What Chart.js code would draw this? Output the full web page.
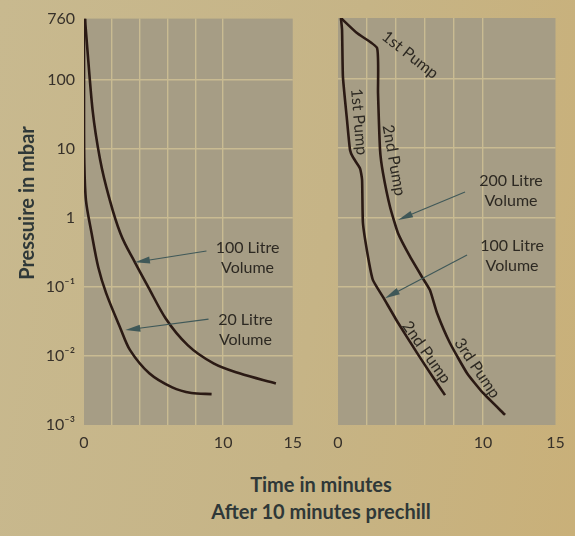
<!DOCTYPE html>
<html>
<head>
<meta charset="utf-8">
<script src="https://cdn.jsdelivr.net/npm/chart.js@4.4.0/dist/chart.umd.min.js"></script>
<style>
    body {
        margin: 0;
        width: 575px;
        height: 536px;
        overflow: hidden;
        position: relative;
        background: linear-gradient(100deg, #c8b98f 0%, #c6b486 55%, #c9b079 100%);
        font-family: Lato, "DejaVu Sans", sans-serif;
    }
    #leftChart { position: absolute; left: 0; top: 0; }
    #rightChart { position: absolute; left: 310px; top: 0; }
    .xtitle {
        position: absolute;
        left: 0;
        width: 642px;
        text-align: center;
        font-weight: bold;
        font-size: 20px;
        color: #2f3838;
    }
</style>
</head>
<body>
<canvas id="leftChart" width="310" height="460"></canvas>
<canvas id="rightChart" width="265" height="460"></canvas>
<div class="xtitle" style="top:472px">Time in minutes</div>
<div class="xtitle" style="top:499px">After 10 minutes prechill</div>
<script>
// axis ticks
var yTickValues = [0.001, 0.01, 0.1, 1, 10, 100, 760];
var yTickLabels = ['10⁻³', '10⁻²', '10⁻¹', '1', '10', '100', '760'];
var xTickValues = [0, 2, 4, 6, 8, 10, 15];
var xLabelValues = [0, 10, 15];

// left panel: 20 litre and 100 litre volume (minutes, mbar)
var left20Time = [0.07, 0, 0, 0.02, 0.14, 0.55, 1.03, 1.59, 2.62, 3.31, 4.69, 6.34, 7.72, 9.17];
var left20Pressure = [760, 331, 35.6, 6.7, 1.78, 0.59, 0.19, 0.081, 0.025, 0.0121, 0.0056, 0.0035, 0.0029, 0.0028];
var left100Time = [0.07, 0.21, 0.62, 1.17, 1.86, 2.62, 3.66, 4.62, 5.86, 7.45, 9.31, 11.17, 13.79];
var left100Pressure = [760, 331, 35.6, 6.7, 1.78, 0.59, 0.226, 0.099, 0.035, 0.0143, 0.0078, 0.0056, 0.0040];

// right panel: 100 litre and 200 litre volume after prechill
var right100Time = [0.2, 0.28, 0.34, 0.62, 0.83, 1.03, 1.52, 1.66, 1.72, 2.07, 2.41, 3.1, 4.14, 5.45, 6.55, 7.38];
var right100Pressure = [760, 513, 107, 25.6, 9.4, 7.4, 5.1, 3.5, 0.83, 0.27, 0.124, 0.071, 0.030, 0.011, 0.0049, 0.0027];
var right200Time = [0.2, 1.31, 2.69, 2.76, 2.9, 3.1, 3.59, 4.14, 4.97, 5.79, 6.34, 6.83, 7.72, 8.9, 10.0, 11.52];
var right200Pressure = [760, 460, 281, 63, 9.4, 4.4, 1.41, 0.59, 0.27, 0.138, 0.089, 0.0415, 0.0153, 0.0056, 0.0029, 0.0014];

var curveColor = '#2b1a14';
var gridColor = '#c9bb92';
var plotColor = '#a69d85';
var textColor = '#2d2922';
var arrowColor = '#3f5858';

function toPoints(times, values) {
    var pts = [];
    for (let i = 0; i < times.length; i++) {
        pts.push({ x: times[i], y: values[i] });
    }
    return pts;
}

// tension 'monotone' = monotone cubic, a number = plain bezier
function curve(times, values, tension) {
    var ds = {
        data: toPoints(times, values),
        showLine: true,
        borderColor: curveColor,
        borderWidth: 2.6,
        pointRadius: 0,
        tension: 0.3
    };
    if (tension === 'monotone') {
        ds.cubicInterpolationMode = 'monotone';
    } else {
        ds.tension = tension;
    }
    return ds;
}

var plotBackground = {
    id: 'plotBackground',
    beforeDraw: function (chart) {
        var a = chart.chartArea;
        chart.ctx.save();
        chart.ctx.fillStyle = plotColor;
        chart.ctx.fillRect(a.left, a.top, a.right - a.left, a.bottom - a.top);
        chart.ctx.restore();
    }
};

// labels and arrows, placed in data coordinates
var notes = {
    id: 'notes',
    afterDatasetsDraw: function (chart, args, opts) {
        var ctx = chart.ctx;
        var xs = chart.scales.x, ys = chart.scales.y;
        ctx.save();
        (opts.arrows || []).forEach(function (a) {
            var x1 = xs.getPixelForValue(a.from[0]), y1 = ys.getPixelForValue(a.from[1]);
            var x2 = xs.getPixelForValue(a.to[0]), y2 = ys.getPixelForValue(a.to[1]);
            var ang = Math.atan2(y2 - y1, x2 - x1);
            ctx.strokeStyle = arrowColor;
            ctx.fillStyle = arrowColor;
            ctx.lineWidth = 1.1;
            ctx.beginPath();
            ctx.moveTo(x1, y1);
            ctx.lineTo(x2 - 10 * Math.cos(ang), y2 - 10 * Math.sin(ang));
            ctx.stroke();
            ctx.beginPath();
            ctx.moveTo(x2, y2);
            ctx.lineTo(x2 - 15 * Math.cos(ang) + 3.5 * Math.sin(ang), y2 - 15 * Math.sin(ang) - 3.5 * Math.cos(ang));
            ctx.lineTo(x2 - 15 * Math.cos(ang) - 3.5 * Math.sin(ang), y2 - 15 * Math.sin(ang) + 3.5 * Math.cos(ang));
            ctx.closePath();
            ctx.fill();
        });
        (opts.texts || []).forEach(function (t) {
            var lines = t.text.split('\n');
            ctx.save();
            ctx.translate(xs.getPixelForValue(t.at[0]), ys.getPixelForValue(t.at[1]));
            ctx.rotate((t.angle || 0) * Math.PI / 180);
            ctx.font = '16px Lato, "DejaVu Sans", sans-serif';
            ctx.fillStyle = textColor;
            ctx.textAlign = 'center';
            ctx.textBaseline = 'middle';
            for (let i = 0; i < lines.length; i++) {
                ctx.fillText(lines[i], 0, (i - (lines.length - 1) / 2) * 20);
            }
            ctx.restore();
        });
        if (opts.yTitle) {
            ctx.save();
            ctx.translate(28, 203);
            ctx.rotate(-Math.PI / 2);
            ctx.font = 'bold 20px Lato, "DejaVu Sans", sans-serif';
            ctx.fillStyle = '#2f3838';
            ctx.textAlign = 'center';
            ctx.textBaseline = 'middle';
            ctx.fillText(opts.yTitle, 0, 0);
            ctx.restore();
        }
        ctx.restore();
    }
};

function buildChart(canvasId, datasets, showYLabels, yWidth, padding, noteOpts) {
    return new Chart(document.getElementById(canvasId), {
        type: 'scatter',
        data: { datasets: datasets },
        options: {
            responsive: false,
            animation: false,
            layout: { padding: padding },
            plugins: {
                legend: { display: false },
                tooltip: { enabled: false },
                notes: noteOpts
            },
            scales: {
                x: {
                    type: 'linear',
                    min: 0,
                    max: 15,
                    afterBuildTicks: function (s) {
                        s.ticks = xTickValues.map(function (v) { return { value: v }; });
                    },
                    afterFit: function (s) { s.height = 25; },
                    border: { display: false },
                    grid: {
                        drawTicks: false,
                        lineWidth: 1.4,
                        color: function (c) {
                            return (c.tick && c.tick.value > 0 && c.tick.value <= 10) ? gridColor : 'rgba(0,0,0,0)';
                        }
                    },
                    ticks: {
                        autoSkip: false,
                        maxRotation: 0,
                        padding: 8,
                        color: '#37312a',
                        font: { family: 'Lato, "DejaVu Sans", sans-serif', size: 16 },
                        callback: function (v) { return xLabelValues.indexOf(v) >= 0 ? String(v) : ''; }
                    }
                },
                y: {
                    type: 'logarithmic',
                    min: 0.001,
                    max: 760,
                    afterBuildTicks: function (s) {
                        s.ticks = yTickValues.map(function (v) { return { value: v }; });
                    },
                    afterFit: function (s) { s.width = yWidth; },
                    border: { display: false },
                    grid: {
                        drawTicks: false,
                        lineWidth: 1.4,
                        color: function (c) {
                            return (c.tick && c.tick.value > 0.001 && c.tick.value < 500) ? gridColor : 'rgba(0,0,0,0)';
                        }
                    },
                    ticks: {
                        display: showYLabels,
                        padding: 9,
                        color: '#37312a',
                        font: { family: 'Lato, "DejaVu Sans", sans-serif', size: 16 },
                        callback: function (v) {
                            var i = yTickValues.indexOf(v);
                            return i >= 0 ? yTickLabels[i] : '';
                        }
                    }
                }
            }
        },
        plugins: [plotBackground, notes]
    });
}

buildChart('leftChart', [
    curve(left20Time, left20Pressure, 0.3),
    curve(left100Time, left100Pressure, 'monotone')
], true, 84, { left: 0, top: 18, right: 8.5, bottom: 10 }, {
    yTitle: 'Pressuire in mbar',
    texts: [
        { text: '100 Litre\nVolume', at: [11.75, 0.26] },
        { text: '20 Litre\nVolume', at: [11.6, 0.024] }
    ],
    arrows: [
        { from: [8.8, 0.33], to: [3.66, 0.226] },
        { from: [8.95, 0.034], to: [2.97, 0.0236] }
    ]
});

buildChart('rightChart', [
    curve(right100Time, right100Pressure, 0.15),
    curve(right200Time, right200Pressure, 0.15)
], false, 28, { left: 0, top: 18, right: 19.5, bottom: 10 }, {
    texts: [
        { text: '1st Pump', at: [4.97, 222], angle: 38 },
        { text: '1st Pump', at: [1.45, 24], angle: 85 },
        { text: '2nd Pump', at: [3.85, 6.7], angle: 80 },
        { text: '2nd Pump', at: [6.1, 0.0113], angle: 55 },
        { text: '3rd Pump', at: [9.6, 0.0066], angle: 56 },
        { text: '200 Litre\nVolume', at: [11.93, 2.4] },
        { text: '100 Litre\nVolume', at: [12.0, 0.28] }
    ],
    arrows: [
        { from: [8.76, 2.33], to: [4.14, 0.92] },
        { from: [8.9, 0.286], to: [3.24, 0.068] }
    ]
});
</script>
</body>
</html>
